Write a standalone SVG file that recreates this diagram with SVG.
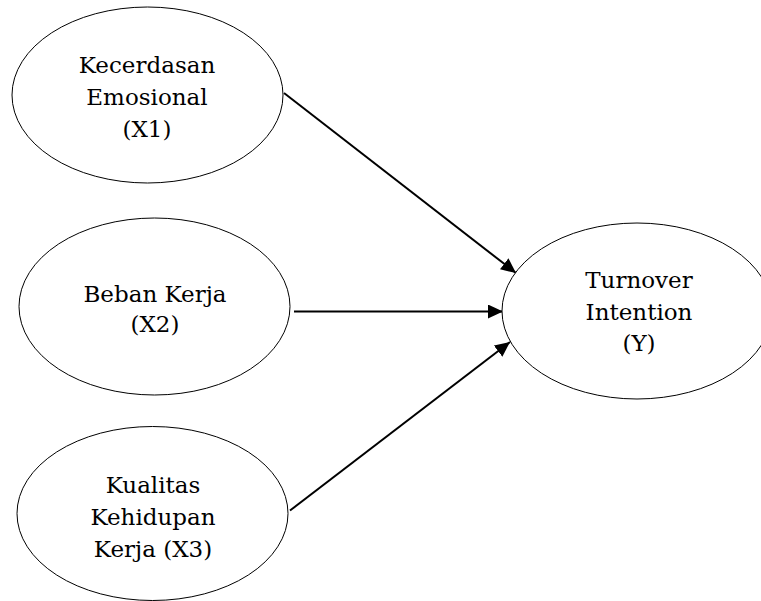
<svg xmlns="http://www.w3.org/2000/svg" width="761" height="601" viewBox="0 0 761 601">
<style>
.node ellipse{fill:#fff;stroke:#000;stroke-width:1}
.node text{font-family:"DejaVu Serif","Liberation Serif",serif;font-size:23px;fill:#000;text-anchor:middle}
.edge{stroke:#000;stroke-width:2;fill:none;marker-end:url(#arr)}
</style>
<defs>
<marker id="arr" markerUnits="userSpaceOnUse" markerWidth="16" markerHeight="15" refX="15" refY="7" orient="auto">
<path d="M0,0 L15,7 L0,14 z" fill="#000"/>
</marker>
</defs>
<rect width="761" height="601" fill="#fff"/>
<g id="connectors">
<line class="edge" x1="284" y1="93" x2="516" y2="273"/>
<line class="edge" x1="294" y1="311.5" x2="503" y2="311.5"/>
<line class="edge" x1="290" y1="510.5" x2="510" y2="342"/>
</g>
<g id="x1" class="node">
<ellipse cx="147.5" cy="95" rx="135.5" ry="88"/>
<text x="147" y="73">Kecerdasan</text>
<text x="147" y="105">Emosional</text>
<text x="147" y="137">(X1)</text>
</g>
<g id="x2" class="node">
<ellipse cx="154.5" cy="306.5" rx="135.5" ry="88.5"/>
<text x="155" y="302">Beban Kerja</text>
<text x="155" y="332">(X2)</text>
</g>
<g id="x3" class="node">
<ellipse cx="152.5" cy="513.5" rx="135.5" ry="87"/>
<text x="153" y="493">Kualitas</text>
<text x="153" y="525">Kehidupan</text>
<text x="153" y="557">Kerja (X3)</text>
</g>
<g id="y" class="node">
<ellipse cx="637" cy="311" rx="135" ry="88"/>
<text x="639" y="288">Turnover</text>
<text x="639" y="320">Intention</text>
<text x="639" y="351">(Y)</text>
</g>
</svg>
